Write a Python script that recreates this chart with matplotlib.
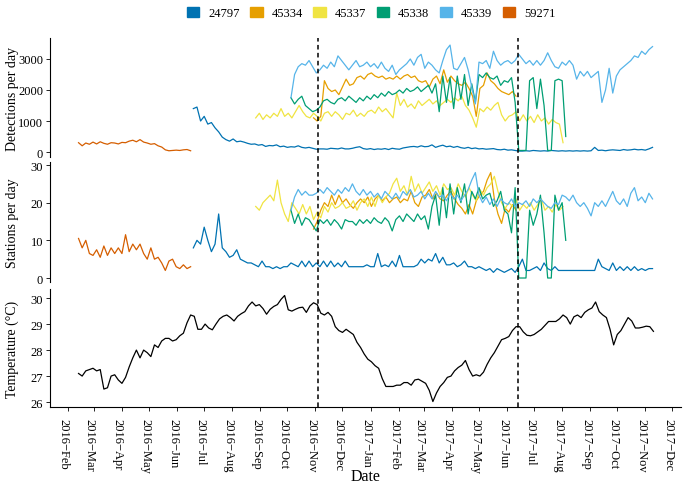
import numpy as np
import pandas as pd
import matplotlib
matplotlib.use("Agg")
import matplotlib.pyplot as plt
import matplotlib.dates as mdates
from matplotlib.patches import Patch
from matplotlib.lines import Line2D
import matplotlib.transforms as mtransforms
from datetime import datetime

plt.rcParams['font.family'] = ['Liberation Serif', 'DejaVu Serif']

# ---------------- data (sampled every 4 days) ----------------
tags = ['24797', '45334', '45337', '45338', '45339', '59271']
tag_colors = ['#0072B2', '#E69F00', '#F0E442', '#009E73', '#56B4E9', '#D55E00']
step = '4D'

start_59271 = '2016-02-13'
det_59271 = [300, 200, 290, 250, 320, 260, 330, 280, 250, 300, 290, 260, 310, 300, 350, 380,
             330, 400, 320, 290, 250, 270, 200, 160, 70, 40, 50, 60, 50, 70, 80, 40]
sta_59271 = [10.5, 8, 10, 6.5, 6, 7.5, 5.5, 8.5, 6, 8, 6.5, 8, 6.5, 11.5, 7, 9,
             7.5, 9, 6.5, 5, 8, 5, 5.5, 4, 2, 4.5, 5, 3, 2.5, 3.5, 2.5, 3]

start_24797 = '2016-06-19'
det_24797 = [1400, 1450, 1000, 1150, 900, 950, 780, 650, 480, 400,
             350, 420, 330, 350, 320, 280, 250, 260, 220, 240,
             180, 210, 200, 230, 170, 190, 150, 170, 160, 200,
             150, 130, 150, 120, 90, 100, 100, 90, 120, 110,
             100, 130, 100, 100, 120, 150, 170, 110, 90, 110,
             80, 100, 90, 110, 80, 120, 100, 90, 130, 150,
             170, 180, 160, 200, 170, 180, 230, 150, 190, 220,
             170, 190, 150, 180, 140, 120, 150, 110, 130, 100,
             110, 90, 100, 110, 80, 70, 90, 60, 70, 50,
             30, 30, 40, 30, 50, 40, 30, 40, 30, 50,
             40, 30, 40, 30, 40, 30, 40, 30, 40, 30,
             40, 150, 50, 60, 40, 60, 70, 60, 50, 80,
             60, 70, 90, 70, 80, 60, 100, 150]
sta_24797 = [8, 10, 9, 13.5, 10, 7, 9, 17, 8, 7,
             5.5, 6, 7.5, 5, 4.5, 4, 4, 3.5, 3, 4.5,
             3, 3, 2.5, 3, 2.5, 3, 3, 4, 3.5, 3,
             4.5, 3, 4.5, 3, 4, 3, 4.5, 3, 4.5, 3,
             4, 3, 4.5, 3, 3, 3, 3, 3, 3.5, 3,
             3, 6.5, 3, 3.5, 3, 4.5, 3, 6, 3, 3,
             3, 3, 3.5, 5, 4, 5, 4.5, 6.5, 4, 5.5,
             3.5, 3.5, 4, 3, 3.5, 4.5, 3, 3, 2.5, 3,
             2.5, 2, 2.5, 1.5, 2.5, 2, 1.5, 2, 2.5, 1.5,
             3, 5, 2, 2, 2.5, 3, 2, 4, 2.5, 2,
             3, 2, 2, 2, 2, 2, 2, 2, 2, 2,
             2, 2, 5, 3, 2.5, 2, 4, 2, 3, 2,
             3, 2, 3, 2, 2.5, 2, 2.5, 2.5]

start_45337 = '2016-08-27'
det_45337 = [1100, 1250, 1050, 1200, 1100, 1250, 1150, 1400, 1150, 1250,
             1100, 1300, 1500, 1300, 1150, 1100, 1250, 1150, 1000, 1250,
             1300, 1150, 1300, 1200, 1050, 1250, 1200, 1350, 1150, 1250,
             1150, 1300, 1350, 1250, 1450, 1300, 1400, 1250, 1100, 1900,
             1500, 1700, 1450, 1550, 1400, 1650, 1500, 1600, 1700, 1550,
             1650, 1500, 1600, 1700, 1600, 1750, 1650, 1800, 1500, 1350,
             1100, 800, 1400, 1300, 1450, 1350, 1500, 1600, 1200, 1000,
             1150, 1200, 1300, 1000, 1200, 1000, 1150, 950, 1200, 1000,
             1100, 900, 1050, 950, 900, 300]
sta_45337 = [19, 18, 20, 21, 22, 20.5, 26, 20, 17, 15,
             20, 18.5, 17, 19.5, 17, 19, 15.5, 17.5, 16, 19,
             17.5, 20, 18.5, 19, 20, 18.5, 19, 20.5, 18, 20,
             21, 19, 21.5, 19, 22, 20, 21.5, 22.5, 25, 26.5,
             23, 24.5, 22, 27, 23, 25, 22.5, 24, 25.5, 23,
             24.5, 22, 25, 23.5, 24, 22, 25, 23, 21.5, 24,
             22, 20.5, 23.5, 22, 24, 25, 27, 23, 20, 18.5,
             20, 19, 21, 18, 19.5, 18.5, 20, 18, 19.5, 21,
             18, 19, 17.5, 19.5, 18, 19]

start_45339 = '2016-10-05'
det_45339 = [1750, 2500, 2750, 2850, 2800, 2950, 2750, 2550, 2650, 2800,
             2700, 2900, 2750, 3100, 2950, 2800, 2650, 2800, 2950, 2750,
             2800, 2900, 2750, 2850, 2700, 2900, 2700, 2600, 2800, 2500,
             2650, 2750, 2850, 3000, 2800, 3050, 3150, 2700, 2900, 2800,
             2650, 2550, 2950, 3300, 3450, 2700, 2650, 2850, 3050, 2650,
             2100, 1550, 2900, 2850, 2950, 2700, 3250, 2950, 2800, 2900,
             2950, 2850, 2950, 3150, 3000, 2850, 2950, 2800, 2950, 2800,
             2950, 3200, 2950, 2750, 2700, 2900, 2800, 2950, 2800, 2350,
             2600, 2450, 2600, 2400, 2500, 2600, 1600, 2000, 2700, 1900,
             2450, 2650, 2750, 2850, 2950, 3100, 3050, 3250, 3150, 3300,
             3400]
sta_45339 = [18, 21.5, 23.5, 22, 23, 22, 22, 22.5, 23.5, 22.5,
             24, 23, 22, 23.5, 22.5, 24, 23, 25, 23, 22,
             23.5, 22, 23, 21.5, 22.5, 21, 23, 22, 21, 22.5,
             21, 23, 22, 23.5, 21.5, 22, 23, 21, 22.5, 21,
             23, 21.5, 22, 20.5, 22.5, 21, 22, 20.5, 22, 23.5,
             26, 28, 22, 20, 21.5, 19.5, 21, 19, 21, 20,
             19.5, 21, 19, 20, 19.5, 20.5, 19, 21, 20, 21,
             20, 19, 18.5, 20, 19.5, 22, 21.5, 20.5, 22, 20,
             19, 20, 18.5, 16.5, 20, 19, 20.5, 19, 21, 23,
             20.5, 19.5, 21, 19, 22.5, 24, 20.5, 21.5, 20, 22.5,
             21]

start_45338 = '2016-10-05'
det_45338 = [1750, 1550, 1700, 1800, 1500, 1400, 1300, 1350, 1450, 1650,
             1700, 1600, 1550, 1700, 1750, 1650, 1800, 1700, 1600, 1750,
             1650, 1800, 1700, 1850, 1750, 1900, 1800, 1950, 1850, 1900,
             2000, 1900, 2050, 1950, 2000, 2100, 1950, 2050, 2150, 1900,
             2200, 1300, 2450, 1600, 2400, 1400, 2450, 1700, 2500, 1500,
             2200, 1600, 2500, 2400, 2550, 2400, 2350, 2450, 2150, 2300,
             2250, 2400, 1600, 50, 50, 50, 2300, 2400, 1400, 2350,
             1500, 50, 50, 2300, 2350, 2300, 500]
sta_45338 = [18, 14.5, 17, 14, 16, 15.5, 14, 12.5, 15.5, 14.5,
             15.5, 14, 15.5, 14.5, 13, 15.5, 15, 15, 14, 15.5,
             14.5, 15.5, 14.5, 16, 15, 14.5, 16, 15, 12.5, 15.5,
             16.5, 15, 17, 16, 15, 17, 15.5, 16.5, 13, 19,
             22, 14, 24, 16, 25, 17, 24, 20, 25, 17,
             23, 21, 24, 21, 22, 22.5, 19, 20.5, 23, 18,
             17, 12, 24, 0, 0, 0, 18, 14, 17, 22,
             12, 0, 0, 22, 18, 20, 10]

start_45334 = '2016-10-30'
det_45334 = [1100, 1000, 1150, 2300, 2050, 1950, 2000, 1850, 2100, 2350,
             2150, 2200, 2400, 2450, 2350, 2500, 2550, 2450, 2400, 2450,
             2350, 2400, 2350, 2450, 2350, 2450, 2500, 2400, 2450, 2300,
             2250, 2300, 2100, 2350, 2450, 2200, 2650, 2250, 2450, 2300,
             2200, 2150, 2250, 2050, 1800, 1150, 2050, 2150, 2550, 2300,
             2200, 2050, 1950, 1900, 1850, 1950, 1800]
sta_45334 = [13, 15, 18, 20, 19, 22, 19.5, 22, 20, 21,
             19.5, 18.5, 20, 21, 20, 21.5, 19, 21, 22, 20.5,
             21.5, 20, 21, 21.5, 20, 21, 20.5, 23, 20, 19,
             21.5, 22, 23.5, 21, 22.5, 21, 20.5, 22, 23, 21,
             19.5, 18.5, 17, 19.5, 17, 20.5, 22, 23, 26, 28,
             21, 17, 14.5, 18.5, 17.5, 19.5, 18]

start_temp = '2016-02-13'
temperature = [27.1, 27.0, 27.2, 27.25, 27.3, 27.2, 27.25, 26.5, 26.55, 27.0,
               27.05, 26.85, 26.72, 26.95, 27.35, 27.7, 28.0, 27.7, 28.0, 27.9,
               27.75, 28.2, 28.1, 28.35, 28.45, 28.45, 28.35, 28.4, 28.55, 28.65,
               29.05, 29.35, 29.3, 28.8, 28.8, 29.0, 28.85, 28.78, 29.0, 29.2,
               29.3, 29.35, 29.25, 29.12, 29.3, 29.4, 29.48, 29.7, 29.85, 29.7,
               29.75, 29.6, 29.38, 29.57, 29.68, 29.75, 29.95, 30.1, 29.55, 29.5,
               29.57, 29.63, 29.65, 29.45, 29.7, 29.82, 29.75, 29.42, 29.35, 29.45,
               29.3, 28.9, 28.75, 28.68, 28.8, 28.7, 28.6, 28.3, 28.1, 27.85,
               27.65, 27.55, 27.4, 27.3, 26.9, 26.6, 26.6, 26.6, 26.65, 26.65,
               26.75, 26.75, 26.65, 26.85, 26.88, 26.8, 26.72, 26.45, 26.02, 26.35,
               26.6, 26.75, 26.95, 27.0, 27.2, 27.33, 27.42, 27.6, 27.25, 27.0,
               27.05, 27.0, 27.15, 27.45, 27.7, 27.9, 28.15, 28.4, 28.45, 28.52,
               28.75, 28.9, 28.9, 28.7, 28.57, 28.55, 28.6, 28.7, 28.8, 28.95,
               29.1, 29.1, 29.1, 29.2, 29.35, 29.25, 29.0, 29.28, 29.35, 29.25,
               29.45, 29.55, 29.62, 29.85, 29.48, 29.35, 29.25, 28.8, 28.2, 28.6,
               28.75, 29.0, 29.25, 29.12, 28.85, 28.85, 28.88, 28.92, 28.9, 28.72]

event_dates = ['2016-11-04', '2017-06-13']
y1_ticks = [0, 1000, 2000, 3000]
y2_ticks = [0, 10, 20, 30]
y3_ticks = [26, 27, 28, 29, 30]

series = {
    '24797': (start_24797, det_24797, sta_24797),
    '45334': (start_45334, det_45334, sta_45334),
    '45337': (start_45337, det_45337, sta_45337),
    '45338': (start_45338, det_45338, sta_45338),
    '45339': (start_45339, det_45339, sta_45339),
    '59271': (start_59271, det_59271, sta_59271),
}

# ---------------- figure ----------------
W_PX, H_PX = 685, 485
fig = plt.figure(figsize=(W_PX / 100, H_PX / 100), dpi=100)
left = 50 / W_PX
width = 631 / W_PX
ax1 = fig.add_axes([left, 1 - 158 / H_PX, width, 119 / H_PX])
ax2 = fig.add_axes([left, 1 - 283 / H_PX, width, 120 / H_PX], sharex=ax1)
ax3 = fig.add_axes([left, 1 - 408 / H_PX, width, 118 / H_PX], sharex=ax1)

for tag, col in zip(tags, tag_colors):
    st, det, sta = series[tag]
    dates = pd.date_range(st, periods=len(det), freq=step)
    ax1.plot(dates, det, color=col, lw=0.9)
    ax2.plot(dates, sta, color=col, lw=0.9)

tdates = pd.date_range(start_temp, periods=len(temperature), freq=step)
ax3.plot(tdates, temperature, color='black', lw=0.9)

ax1.set_xlim(datetime(2016, 1, 12, 10), datetime(2017, 12, 10, 12))
ax1.set_ylim(-161, 3677)
ax2.set_ylim(-1.06, 30.8)
ax3.set_ylim(25.81, 30.35)
ax1.set_yticks(y1_ticks)
ax2.set_yticks(y2_ticks)
ax3.set_yticks(y3_ticks)

for ax in (ax1, ax2, ax3):
    ax.spines['top'].set_visible(False)
    ax.spines['right'].set_visible(False)
    ax.spines['left'].set_linewidth(0.8)
    ax.spines['bottom'].set_linewidth(0.8)
    ax.tick_params(axis='both', direction='out', length=3, width=0.6,
                   labelsize=9, pad=2, colors='black')
    ax.patch.set_alpha(0)
for ax in (ax1, ax2):
    ax.spines['bottom'].set_visible(False)
    ax.tick_params(axis='x', bottom=False, labelbottom=False)

ax3.xaxis.set_major_locator(mdates.MonthLocator())
ax3.xaxis.set_major_formatter(mdates.DateFormatter('%Y\u2212%b'))
ax3.tick_params(axis='x', pad=5)
offset = mtransforms.ScaledTranslation(-0.04, 0, fig.dpi_scale_trans)
for lab in ax3.get_xticklabels():
    lab.set_rotation(-90)
    lab.set_ha('center')
    lab.set_va('top')
    lab.set_transform(lab.get_transform() + offset)

ax1.set_ylabel('Detections per day', fontsize=10)
ax2.set_ylabel('Stations per day', fontsize=10)
ax3.set_ylabel('Temperature (\u00b0C)', fontsize=10)
for ax in (ax1, ax2, ax3):
    ax.yaxis.set_label_coords(-0.049, 0.5)
ax3.set_xlabel('Date', fontsize=11.5)
ax3.xaxis.set_label_coords(0.5, -0.52)

# dashed event lines spanning all panels
y_top = 1 - 39 / H_PX
y_bot = 1 - 408 / H_PX
for d in event_dates:
    xd = ax3.transData.transform((mdates.date2num(pd.Timestamp(d)), 0))[0]
    xf = xd / fig.bbox.width
    fig.add_artist(Line2D([xf, xf], [y_bot, y_top], transform=fig.transFigure,
                          color='black', lw=1.1, ls=(0, (3, 2.2))))

handles = [Patch(facecolor=c, edgecolor=c, label=t) for t, c in zip(tags, tag_colors)]
fig.legend(handles=handles, loc='center', bbox_to_anchor=(0.542, 0.971), ncol=6,
           frameon=False, fontsize=9, handlelength=1.0, handleheight=0.9,
           handletextpad=0.7, columnspacing=0.85, borderaxespad=0, borderpad=0)

fig.savefig('out.png', dpi=100)
